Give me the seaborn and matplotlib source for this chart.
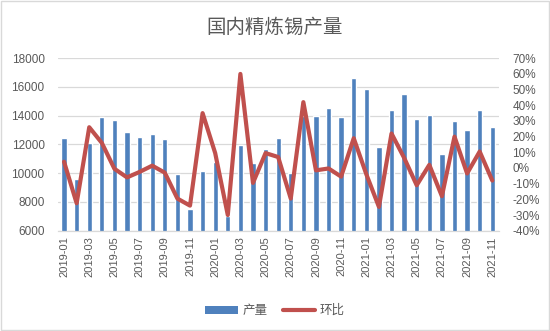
import numpy as np
import pandas as pd
import matplotlib
matplotlib.use("Agg")
import matplotlib.pyplot as plt
import seaborn as sns
from matplotlib.patches import Patch, Rectangle
from matplotlib.lines import Line2D
from matplotlib.ticker import FuncFormatter

# Monthly refined tin output (tonnes) and month-on-month change (%)
months = [
    "2019-01", "2019-02", "2019-03", "2019-04", "2019-05", "2019-06",
    "2019-07", "2019-08", "2019-09", "2019-10", "2019-11", "2019-12",
    "2020-01", "2020-02", "2020-03", "2020-04", "2020-05", "2020-06",
    "2020-07", "2020-08", "2020-09", "2020-10", "2020-11", "2020-12",
    "2021-01", "2021-02", "2021-03", "2021-04", "2021-05", "2021-06",
    "2021-07", "2021-08", "2021-09", "2021-10", "2021-11",
]
output = [
    12450, 9580, 12070, 13930, 13720, 12860,
    12540, 12750, 12400, 9980, 7510, 10160,
    10750, 7000, 11980, 10720, 11700, 12470,
    10020, 14000, 13980, 14560, 13930, 16640,
    15880, 11840, 14420, 15510, 13790, 14070,
    11330, 13650, 13020, 14420, 13230,
]
mom = [
    4.0, -22.5, 26.0, 16.0, -0.5, -6.0,
    -2.5, 1.5, -3.0, -19.5, -24.0, 35.0,
    9.5, -30.0, 60.0, -9.5, 9.5, 7.0,
    -19.5, 42.0, -1.5, -0.3, -5.5, 19.0,
    -4.0, -24.8, 22.0, 6.5, -11.0, 2.0,
    -18.0, 20.0, -3.5, 10.5, -8.0,
]

df = pd.DataFrame({"month": months, "产量": output, "环比": mom})
df["pos"] = np.arange(len(df))

sns.set_theme(style="white")
plt.rcParams["font.family"] = ["Liberation Sans", "Noto Sans CJK SC", "DejaVu Sans"]

BLUE = "#4F81BD"
RED = "#C0504D"
GRID = "#D9D9D9"
TXT = "#595959"

fig = plt.figure(figsize=(5.5, 3.31), dpi=100)
ax = fig.add_axes([0.105, 0.303, 0.8015, 0.521])

sns.barplot(data=df, x="month", y="产量", color=BLUE, width=0.42,
            saturation=1, ax=ax, zorder=2)
ax.set_ylim(6000, 18000)
ax.set_yticks(np.arange(6000, 18001, 2000))
ax.set_xlim(-0.5, len(df) - 0.5)
ax.grid(axis="y", color=GRID, linewidth=0.9, zorder=0)
ax.set_axisbelow(True)
ax.set_xlabel("")
ax.set_ylabel("")

# x tick labels every other month; tick marks at category boundaries
ax.set_xticks(df["pos"][::2])
ax.set_xticklabels(df["month"][::2], rotation=90, fontsize=8, color=TXT)
ax.set_xticks(np.arange(-0.5, len(df), 2), minor=True)
ax.tick_params(axis="x", which="major", length=0, pad=4)
ax.tick_params(axis="x", which="minor", length=3, color=GRID, width=0.9, direction="out")
ax.tick_params(axis="y", length=0, labelsize=8.5, labelcolor=TXT, pad=9.5)
for s in ["left", "right", "top"]:
    ax.spines[s].set_visible(False)
ax.spines["bottom"].set_color(GRID)
ax.spines["bottom"].set_linewidth(0.9)

ax2 = ax.twinx()
sns.lineplot(data=df, x="pos", y="环比", color=RED, linewidth=3, ax=ax2,
             zorder=3)
ax2.set_ylim(-40, 70)
ax2.set_yticks(np.arange(-40, 71, 10))
ax2.yaxis.set_major_formatter(FuncFormatter(lambda v, _: f"{int(round(v))}%"))
ax2.tick_params(axis="y", length=0, labelsize=8.5, labelcolor=TXT, pad=10)
ax2.set_ylabel("")
ax2.set_xlabel("")
for s in ["left", "right", "top", "bottom"]:
    ax2.spines[s].set_visible(False)
ax2.set_xlim(-0.5, len(df) - 0.5)

fig.text(0.5, 0.918, "国内精炼锡产量", ha="center", va="center", fontsize=14,
         color=TXT, family=["Noto Sans CJK SC", "DejaVu Sans"], weight="light")

handles = [Patch(facecolor=BLUE, edgecolor="none"),
           Line2D([0], [0], color=RED, linewidth=3)]
fig.legend(handles, ["产量", "环比"], loc="center", bbox_to_anchor=(0.5, 0.062),
           ncol=2, frameon=False, handlelength=2.6, handleheight=0.6,
           columnspacing=1.2, handletextpad=0.4,
           prop={"family": ["Noto Sans CJK SC", "DejaVu Sans"], "size": 9},
           labelcolor=TXT)

fig.patches.append(Rectangle((0.002, 0.003), 0.996, 0.994, transform=fig.transFigure,
                             fill=False, edgecolor=GRID, linewidth=1))

fig.savefig("out.png", dpi=100)
